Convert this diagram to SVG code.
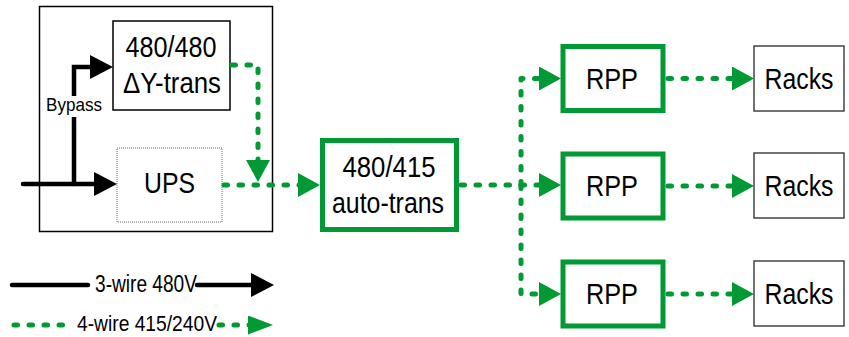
<svg xmlns="http://www.w3.org/2000/svg" width="849" height="337" viewBox="0 0 849 337">
<style>
text{font-family:"Liberation Sans",Arial,sans-serif;fill:#000;text-anchor:middle}
.big{font-size:29px}
.green-box{fill:#fff;stroke:#009933;stroke-width:5}
.black-box{fill:#fff;stroke:#000;stroke-width:1.5}
.rack-box{fill:#fff;stroke:#444;stroke-width:1.5}
.w3{fill:none;stroke:#000;stroke-width:4.5;stroke-linecap:round}
.w4{fill:none;stroke:#009933;stroke-width:5;stroke-linecap:round;stroke-linejoin:round;stroke-dasharray:3.5 11.5}
</style>
<defs>
<marker id="ab" markerUnits="userSpaceOnUse" viewBox="0 0 23 24" markerWidth="23" markerHeight="24" refX="9" refY="12" orient="auto"><path d="M0,0 L23,12 L0,24 z" fill="#000"/></marker>
<marker id="ag" markerUnits="userSpaceOnUse" viewBox="0 0 22 24" markerWidth="22" markerHeight="24" refX="8" refY="12" orient="auto"><path d="M0,0 L22,12 L0,24 z" fill="#009933"/></marker>
<marker id="agl" markerUnits="userSpaceOnUse" viewBox="0 0 25 19" markerWidth="25" markerHeight="19" refX="11" refY="9.5" orient="auto"><path d="M0,0 L25,9.5 L0,19 z" fill="#009933"/></marker>
</defs>

<g id="ups-enclosure"><rect x="39.5" y="6.5" width="233" height="225" fill="#fff" stroke="#000" stroke-width="1.5"/></g>

<g id="dy-trans">
<rect class="black-box" x="113" y="21" width="117" height="89"/>
<text class="big" x="171" y="57" textLength="91" lengthAdjust="spacingAndGlyphs">480/480</text>
<text class="big" x="172" y="93" textLength="98" lengthAdjust="spacingAndGlyphs">ΔY-trans</text>
</g>

<g id="ups">
<rect x="117" y="148" width="105" height="74" fill="#fff" stroke="#666" stroke-width="1" stroke-dasharray="1 1"/>
<text class="big" x="169.5" y="193" textLength="51" lengthAdjust="spacingAndGlyphs">UPS</text>
</g>

<g id="auto-trans">
<rect class="green-box" x="322.5" y="140.5" width="134" height="89"/>
<text class="big" x="389" y="177" textLength="93" lengthAdjust="spacingAndGlyphs">480/415</text>
<text class="big" x="388" y="213" textLength="112" lengthAdjust="spacingAndGlyphs">auto-trans</text>
</g>

<g id="rpp1"><rect class="green-box" x="563" y="46.5" width="100" height="64"/><text class="big" x="612" y="88.5" textLength="52" lengthAdjust="spacingAndGlyphs">RPP</text></g>
<g id="rpp2"><rect class="green-box" x="563" y="154" width="100" height="64"/><text class="big" x="612" y="195.5" textLength="52" lengthAdjust="spacingAndGlyphs">RPP</text></g>
<g id="rpp3"><rect class="green-box" x="563" y="262" width="100" height="64"/><text class="big" x="612" y="303.5" textLength="52" lengthAdjust="spacingAndGlyphs">RPP</text></g>

<g id="racks1"><rect class="rack-box" x="754" y="46" width="90" height="65"/><text class="big" x="799" y="88.5" textLength="69" lengthAdjust="spacingAndGlyphs">Racks</text></g>
<g id="racks2"><rect class="rack-box" x="754" y="153" width="90" height="65"/><text class="big" x="799" y="195.5" textLength="69" lengthAdjust="spacingAndGlyphs">Racks</text></g>
<g id="racks3"><rect class="rack-box" x="754" y="261" width="90" height="65"/><text class="big" x="799" y="303.5" textLength="69" lengthAdjust="spacingAndGlyphs">Racks</text></g>

<g id="connectors">
<path class="w3" d="M23,184 H103" marker-end="url(#ab)"/>
<path class="w3" d="M74,184 V67 H99" stroke-linecap="butt" marker-end="url(#ab)"/>
<rect x="46" y="96" width="56" height="21" fill="#fff"/>
<text x="74" y="111" font-size="19" textLength="56" lengthAdjust="spacingAndGlyphs">Bypass</text>
<path class="w4" d="M232,65 H258 V168" marker-end="url(#ag)"/>
<path class="w4" d="M224,185 H306" marker-end="url(#ag)"/>
<path class="w4" d="M461,185 H547" marker-end="url(#ag)"/>
<path class="w4" d="M521,185 V78.5 H547" marker-end="url(#ag)"/>
<path class="w4" d="M521,185 V294 H547" marker-end="url(#ag)"/>
<path class="w4" d="M668,78.5 H740" marker-end="url(#ag)"/>
<path class="w4" d="M668,186 H740" marker-end="url(#ag)"/>
<path class="w4" d="M668,294 H740" marker-end="url(#ag)"/>
</g>

<g id="legend">
<path class="w3" d="M12,285 H88"/>
<path class="w3" d="M197,285 H260" stroke-linecap="butt" marker-end="url(#ab)"/>
<text x="146" y="292" font-size="23" textLength="102" lengthAdjust="spacingAndGlyphs">3-wire 480V</text>
<path class="w4" d="M14,325 H72"/>
<path class="w4" d="M219,325 H259" marker-end="url(#agl)"/>
<text x="147" y="331" font-size="22" textLength="140" lengthAdjust="spacingAndGlyphs">4-wire 415/240V</text>
</g>
</svg>
